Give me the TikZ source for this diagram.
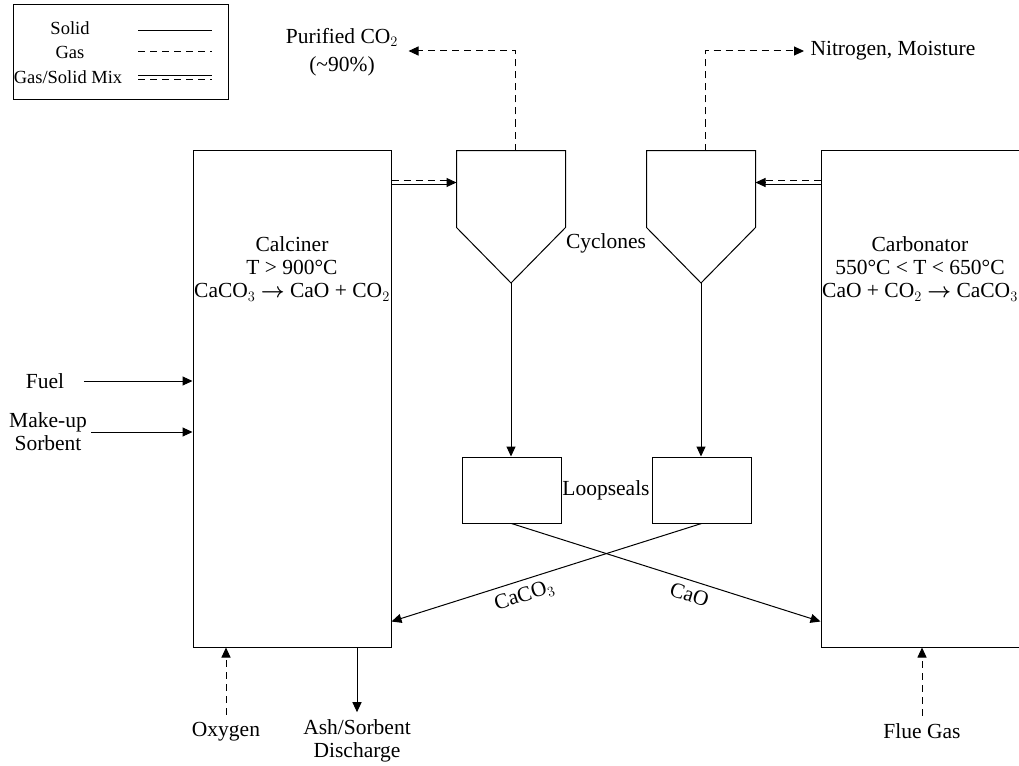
\documentclass[tikz,border=0pt]{standalone}
\usepackage{fontspec}
\setmainfont{Liberation Serif}
\usetikzlibrary{arrows.meta,positioning}

\begin{document}
\begin{tikzpicture}[x=1pt,y=-1pt,>={Triangle[length=10pt,width=9pt]},line width=1pt,font=\fontsize{21.5}{23}\selectfont]
\tikzstyle{gas}=[dash pattern=on 7pt off 5pt]
\tikzstyle{unit}=[draw,inner sep=0pt]
\tikzstyle{txt}=[align=center,inner sep=2pt]
\tikzstyle{lg}=[font=\fontsize{18.5}{20}\selectfont,inner sep=0pt]
\useasboundingbox (0,0) rectangle (1019,765);
\node[draw,minimum width=215pt,minimum height=95pt] (leg) at (120.5,52.5) {};
\node[lg] (lgS) at (70,28) {Solid}; \node[lg] (lgG) at (70,52) {Gas}; \node[lg] (lgM) at (68,77) {Gas/Solid Mix};
\draw (138,31) -- (212,31); \draw[gas] (138,52) -- (212,52); \draw (138,76) -- (212,76); \draw[gas] (138,80) -- (212,80);
\node[unit,minimum width=198pt,minimum height=497pt] (calc) at (292,398.5) {};
\node[unit,minimum width=200pt,minimum height=497pt] (carb) at (921,398.5) {};
\node[txt] (calct) at (292,269) {Calciner\\T > 900°C\\CaCO$_3$ {\boldmath$\rightarrow$} CaO + CO$_2$};
\node[txt] (carbt) at (920,269) {Carbonator\\550°C < T < 650°C\\CaO + CO$_2$ {\boldmath$\rightarrow$} CaCO$_3$};
\node[minimum width=108pt,minimum height=76pt,inner sep=0pt] (cycL) at (511,189) {}; \coordinate (apL) at (511,283);
\node[minimum width=108pt,minimum height=76pt,inner sep=0pt] (cycR) at (701,189) {}; \coordinate (apR) at (701,283);
\draw (cycL.south west) -- (cycL.north west) -- (cycL.north east) -- (cycL.south east) -- (apL) -- cycle;
\draw (cycR.south west) -- (cycR.north west) -- (cycR.north east) -- (cycR.south east) -- (apR) -- cycle;
\node (cyc) at (606,243) {Cyclones};
\node[unit,minimum width=99pt,minimum height=66pt] (lsL) at (511.5,490) {}; \node[unit,minimum width=99pt,minimum height=66pt] (lsR) at (701.5,490) {};
\node (ls) at (606,490) {Loopseals};
\draw[->] (apL) -- (apL |- lsL.north); \draw[->] (apR) -- (apR |- lsR.north);
\draw[->] (lsL.south) -- ([yshift=26pt]carb.south west) node[pos=.59,sloped,below=3pt] (cao) {CaO};
\draw[->] (lsR.south) -- ([yshift=26pt]calc.south east) node[pos=.586,sloped,below=3pt] (caco) {CaCO$_3$};
\coordinate (mL) at ([yshift=-33pt]calc.north east); \coordinate (mLe) at (mL -| cycL.west);
\coordinate (mR) at ([yshift=-33pt]carb.north west); \coordinate (mRe) at (mR -| cycR.east);
\draw[gas,shorten >=8pt] ([yshift=2pt]mL) -- ([yshift=2pt]mLe); \draw[shorten >=8pt] ([yshift=-2pt]mL) -- ([yshift=-2pt]mLe); \draw[->,shorten <=55pt] (mL) -- (mLe);
\draw[gas,shorten >=8pt] ([yshift=2pt]mR) -- ([yshift=2pt]mRe); \draw[shorten >=8pt] ([yshift=-2pt]mR) -- ([yshift=-2pt]mRe); \draw[->,shorten <=55pt] (mR) -- (mRe);
\node[txt] (pur) at (342,52) {Purified CO$_2$\\[5pt](\textasciitilde 90\%)};
\draw[gas,->] ([xshift=4pt]cycL.north) |- ([xshift=8pt,yshift=1pt]pur.east);
\node[anchor=west,inner sep=2pt] (nit) at (808,51) {Nitrogen, Moisture};
\draw[gas,->] ([xshift=4pt]cycR.north) |- ([xshift=-4pt]nit.west);
\node (fuel) at (45,381) {Fuel}; \draw[->] ([xshift=16pt]fuel.east) -- (fuel.east -| calc.west);
\node[txt] (mks) at (48,432) {Make-up\\Sorbent}; \draw[->] ([xshift=2pt]mks.east) -- (mks.east -| calc.west);
\node (oxy) at (226,732) {Oxygen}; \draw[gas,->] ([yshift=4pt]oxy.north) -- (oxy.north |- calc.south);
\node[txt] (ash) at (357,741) {Ash/Sorbent\\Discharge}; \draw[->] (ash.north |- calc.south) -- ([yshift=5pt]ash.north);
\node (flue) at (922,731) {Flue Gas}; \draw[gas,->] ([yshift=4pt]flue.north) -- (flue.north |- carb.south);
\end{tikzpicture}
\end{document}
